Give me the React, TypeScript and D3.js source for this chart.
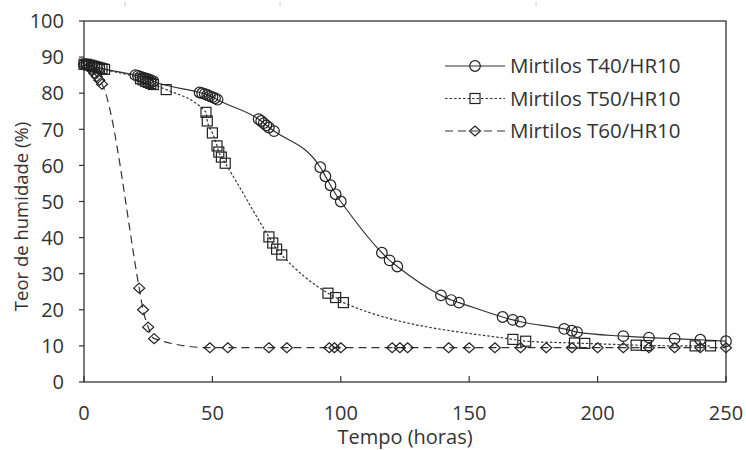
import React from 'react'
import * as d3 from 'd3'

// tempo (horas) e teor de humidade (%)
const t40Hours = [0, 1, 2, 3, 4, 5, 6, 20, 21, 22, 23, 24, 25, 26, 27, 45, 46, 47, 48, 49, 50, 51, 52, 68, 69, 70, 71, 72, 74, 92, 94, 96, 98, 100, 116, 119, 122, 139, 143, 146, 163, 167, 170, 187, 190, 192, 210, 220, 230, 240, 250]
const t40Values = [88, 88, 87.8, 87.6, 87.4, 87.2, 87, 85, 84.8, 84.6, 84.3, 84.1, 83.9, 83.6, 83.3, 80.2, 80, 79.8, 79.5, 79.2, 78.9, 78.6, 78.2, 72.8, 72.3, 71.7, 71.1, 70.5, 69.5, 59.5, 57, 54.5, 52, 50, 35.8, 33.7, 32, 24, 22.7, 22, 18, 17.2, 16.7, 14.7, 14.2, 13.8, 12.7, 12.3, 12, 11.7, 11.3]

const t50Hours = [0, 1, 2, 3, 4, 5, 6, 7, 8, 22, 23, 24, 25, 26, 27, 32, 47.5, 48, 50, 51.8, 52.5, 53.5, 55, 72, 73.5, 75, 77, 95, 98, 101, 167, 172, 191, 195, 215, 219, 238, 244]
const t50Values = [88, 88, 87.8, 87.6, 87.4, 87.2, 87, 86.8, 86.6, 84, 83.7, 83.3, 83, 82.7, 82.4, 81, 74.7, 72.3, 69, 65.4, 63.7, 62.3, 60.6, 40.2, 38.5, 36.8, 35.2, 24.6, 23.4, 22, 11.8, 11.3, 10.8, 10.7, 10.2, 10.1, 10, 10]

const t60Hours = [0, 1, 2, 3, 4, 5, 6, 7, 21.5, 23, 25, 27.3, 49, 56, 72, 79, 95.5, 97.5, 100, 120, 123, 126, 142, 150, 160, 170, 180, 190, 200, 210, 220, 230, 240, 250]
const t60Values = [88, 88, 87.2, 86.5, 85.5, 84.6, 83.6, 82.5, 26, 20, 15.2, 12, 9.5, 9.5, 9.5, 9.5, 9.5, 9.5, 9.5, 9.5, 9.5, 9.5, 9.5, 9.5, 9.5, 9.5, 9.5, 9.5, 9.5, 9.5, 9.5, 9.5, 9.5, 9.5]

const seriesNames = ['Mirtilos T40/HR10', 'Mirtilos T50/HR10', 'Mirtilos T60/HR10']
const xTicks = [0, 50, 100, 150, 200, 250]
const yTicks = [0, 10, 20, 30, 40, 50, 60, 70, 80, 90, 100]

const W = 746
const H = 450
const ink = '#333'
const font = '"Open Sans", sans-serif'

const x = d3.scaleLinear().domain([0, 250]).range([84, 726])
const y = d3.scaleLinear().domain([0, 100]).range([382, 21])

type Pt = [number, number]
const zip = (hs: number[], vs: number[]): Pt[] => hs.map((h, i) => [h, vs[i]])

const line = d3
  .line<Pt>()
  .x((d) => x(d[0]))
  .y((d) => y(d[1]))
  .curve(d3.curveMonotoneX)

const series = [
  { name: seriesNames[0], pts: zip(t40Hours, t40Values), dash: null, marker: 'circle' },
  { name: seriesNames[1], pts: zip(t50Hours, t50Values), dash: '2.5,2', marker: 'square' },
  { name: seriesNames[2], pts: zip(t60Hours, t60Values), dash: '8,5', marker: 'diamond' },
]

const Marker = ({ kind, cx, cy }: { kind: string; cx: number; cy: number }) => {
  const p = { fill: 'none', stroke: '#222', strokeWidth: 1.2 }
  if (kind === 'circle') return <circle cx={cx} cy={cy} r={5.3} {...p} />
  if (kind === 'square') return <rect x={cx - 5} y={cy - 5} width={10} height={10} {...p} />
  return <path d={`M${cx},${cy - 5}L${cx + 5.5},${cy}L${cx},${cy + 5}L${cx - 5.5},${cy}Z`} {...p} />
}

export default function App() {
  return (
    <svg width={W} height={H} style={{ position: 'absolute', left: 0, top: 0, background: '#fff' }}>
      {/* little marks at the top edge of the source image */}
      {[125, 280, 536].map((px) => (
        <line key={px} x1={px} x2={px} y1={2} y2={7} stroke="#ccc" strokeWidth={1} />
      ))}

      {/* frame */}
      <rect x={x(0)} y={y(100)} width={x(250) - x(0)} height={y(0) - y(100)} fill="none" stroke={ink} strokeWidth={1.3} />

      {yTicks.map((t) => (
        <g key={t}>
          <line x1={x(0) - 5} x2={x(0)} y1={y(t)} y2={y(t)} stroke={ink} strokeWidth={1.2} />
          <text x={64} y={y(t)} dy="0.36em" textAnchor="end" fontFamily={font} fontSize={20} fill={ink}>
            {t}
          </text>
        </g>
      ))}
      {xTicks.map((t) => (
        <g key={t}>
          <line x1={x(t)} x2={x(t)} y1={y(0)} y2={y(0) - 6} stroke={ink} strokeWidth={1.2} />
          <text x={x(t)} y={413} dy="0.36em" textAnchor="middle" fontFamily={font} fontSize={20} fill={ink}>
            {t}
          </text>
        </g>
      ))}

      <text x={405} y={444} textAnchor="middle" fontFamily={font} fontSize={20} fill={ink}>
        Tempo (horas)
      </text>
      <text
        transform={`translate(28,${(y(0) + y(100)) / 2 + 15}) rotate(-90)`}
        textAnchor="middle"
        fontFamily={font}
        fontSize={18.5}
        fill={ink}
      >
        Teor de humidade (%)
      </text>

      {series.map((s) => (
        <g key={s.name}>
          <path d={line(s.pts) || ''} fill="none" stroke={ink} strokeWidth={1.2} strokeDasharray={s.dash || undefined} />
          {s.pts.map((d, i) => (
            <Marker key={i} kind={s.marker} cx={x(d[0])} cy={y(d[1])} />
          ))}
        </g>
      ))}

      {/* legend */}
      {series.map((s, i) => {
        const ly = 66 + i * 32.5
        return (
          <g key={s.name}>
            <line x1={445} x2={505} y1={ly} y2={ly} stroke={ink} strokeWidth={1.2} strokeDasharray={s.dash || undefined} />
            <Marker kind={s.marker} cx={475} cy={ly} />
            <text x={510} y={ly} dy="0.36em" fontFamily={font} fontSize={20.5} fill={ink}>
              {s.name}
            </text>
          </g>
        )
      })}
    </svg>
  )
}
